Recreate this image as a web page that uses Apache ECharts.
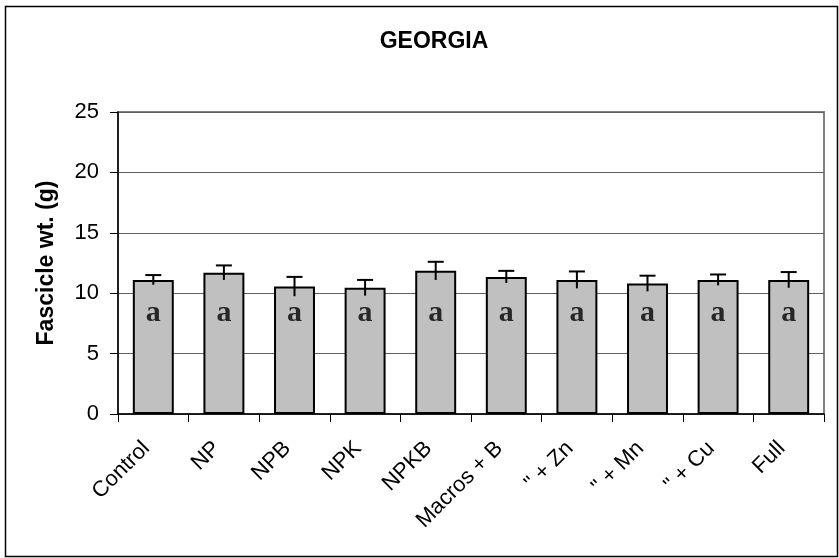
<!DOCTYPE html>
<html>
<head>
<meta charset="utf-8">
<script src="https://cdn.jsdelivr.net/npm/echarts@6/dist/echarts.min.js"></script>
<style>
html,body{margin:0;padding:0;background:#fff;}
#chart{width:839px;height:558px;}
</style>
</head>
<body>
<div id="chart"></div>
<script>
var categories = ['Control', 'NP', 'NPB', 'NPK', 'NPKB', 'Macros + B', '" + Zn', '" + Mn', '" + Cu', 'Full'];
var means = [11.1, 11.7, 10.55, 10.45, 11.85, 11.35, 11.1, 10.8, 11.1, 11.1];
var errors = [0.4, 0.6, 0.8, 0.65, 0.75, 0.5, 0.7, 0.65, 0.45, 0.65];
var letters = ['a', 'a', 'a', 'a', 'a', 'a', 'a', 'a', 'a', 'a'];
var yTicks = [0, 5, 10, 15, 20, 25];

var LETTER_Y = 8.3;

var chart = echarts.init(document.getElementById('chart'), null, {renderer: 'canvas'});

var option = {
  animation: false,
  backgroundColor: '#ffffff',
  title: {
    text: 'GEORGIA',
    left: 429,
    top: 25,
    textAlign: 'center',
    textStyle: {fontFamily: 'Liberation Sans, Arial', fontWeight: 'bold', fontSize: 23, color: '#000'}
  },
  graphic: [{
    type: 'rect',
    shape: {x: 5.5, y: 6.5, width: 832, height: 550},
    style: {fill: 'none', stroke: '#000', lineWidth: 1.5},
    silent: true,
    z: -10
  }],
  grid: {left: 118, right: 15, top: 112, bottom: 144, show: true, borderColor: '#808080', borderWidth: 2},
  xAxis: {
    type: 'category',
    data: categories,
    axisLine: {lineStyle: {color: '#000', width: 1.5}},
    axisTick: {show: true, alignWithLabel: false, length: 8, lineStyle: {color: '#000', width: 1}},
    axisLabel: {
      rotate: 45, interval: 0, margin: 24,
      padding: [0, 10, 0, 0],
      fontFamily: 'Liberation Sans, Arial', fontSize: 22, color: '#000'
    }
  },
  yAxis: {
    type: 'value',
    min: yTicks[0], max: yTicks[yTicks.length - 1], interval: 5,
    name: 'Fascicle wt. (g)',
    nameLocation: 'middle',
    nameGap: 60,
    nameRotate: 90,
    nameTextStyle: {fontFamily: 'Liberation Sans, Arial', fontWeight: 'bold', fontSize: 23, color: '#000'},
    axisLine: {show: true, lineStyle: {color: '#000', width: 1.5}},
    axisTick: {show: true, length: 8, lineStyle: {color: '#000'}},
    axisLabel: {margin: 19, fontFamily: 'Liberation Sans, Arial', fontSize: 22, color: '#000'},
    splitLine: {show: true, lineStyle: {color: '#606060', width: 1}}
  },
  series: [
    {
      type: 'bar',
      data: means,
      barCategoryGap: '42%',
      itemStyle: {color: '#c0c0c0', borderColor: '#000', borderWidth: 2},
      z: 2
    },
    {
      type: 'custom',
      data: means.map(function (m, i) { return [i, m, errors[i]]; }),
      renderItem: function (params, api) {
        var x = api.value(0), m = api.value(1), e = api.value(2);
        var top = api.coord([x, m + e]);
        var bot = api.coord([x, m - e]);
        var half = 8;
        return {
          type: 'group',
          children: [
            {type: 'line', shape: {x1: top[0], y1: top[1], x2: bot[0], y2: bot[1]}, style: {stroke: '#000', lineWidth: 2}},
            {type: 'line', shape: {x1: top[0] - half, y1: top[1], x2: top[0] + half, y2: top[1]}, style: {stroke: '#000', lineWidth: 2}}
          ]
        };
      },
      z: 5
    },
    {
      type: 'scatter',
      data: letters.map(function (l, i) { return [i, LETTER_Y]; }),
      symbolSize: 0,
      label: {
        show: true, position: 'inside',
        formatter: function (p) { return letters[p.dataIndex]; },
        fontFamily: 'Liberation Serif, Times New Roman', fontWeight: 'bold', fontSize: 30, color: '#000'
      },
      z: 6
    }
  ]
};
chart.setOption(option);
</script>
</body>
</html>
